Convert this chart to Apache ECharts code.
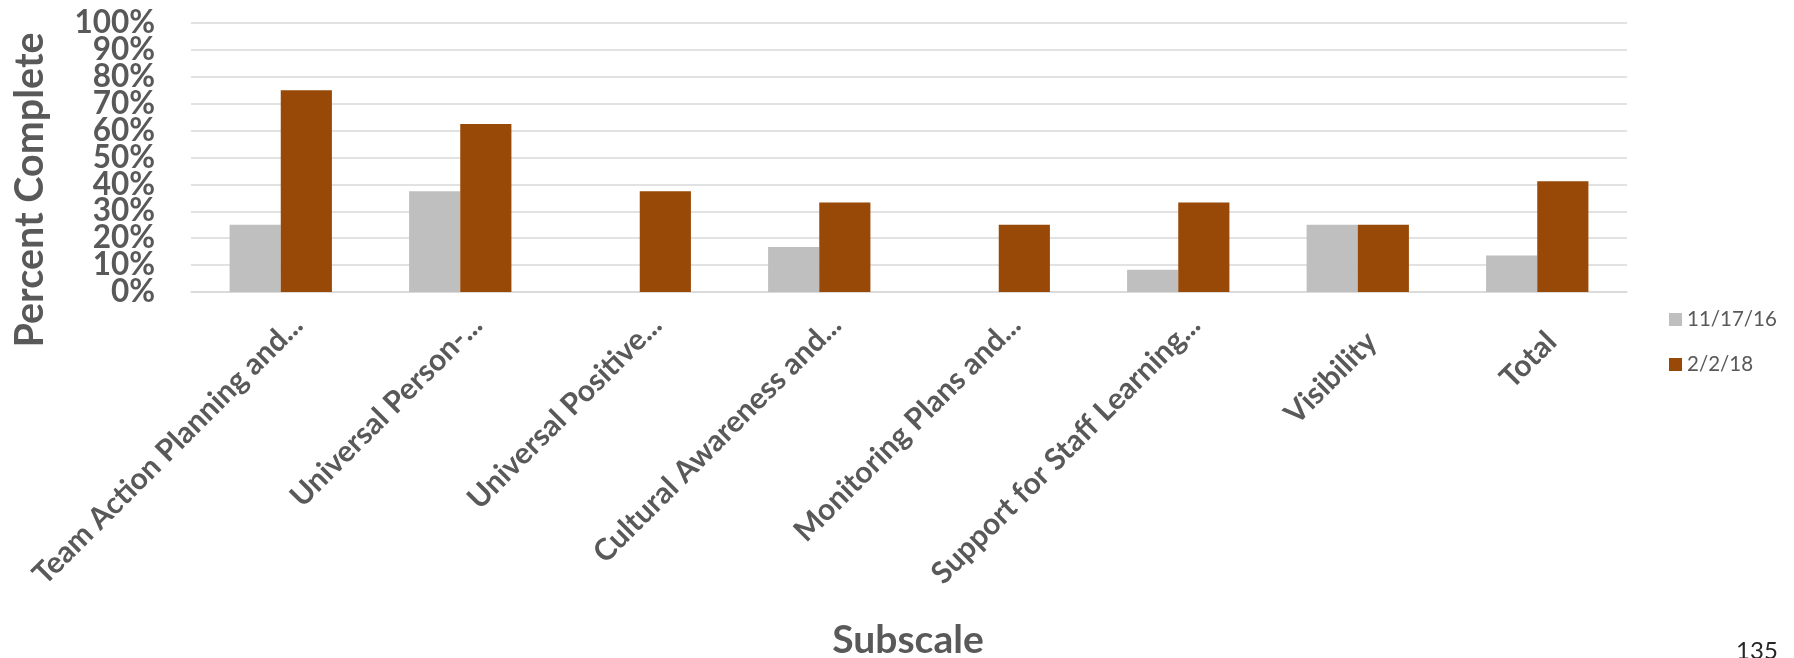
<!DOCTYPE html>
<html>
<head>
<meta charset="utf-8">
<style>
  html, body { margin: 0; padding: 0; background: #ffffff; }
  #chart { width: 1794px; height: 658px; }
</style>
<script src="https://cdn.jsdelivr.net/npm/echarts@6/dist/echarts.min.js"></script>
</head>
<body>
<div id="chart"></div>
<script>
// Subscale categories (long names shortened as on the axis)
const categories = [
  'Team Action Planning and...',
  'Universal Person-...',
  'Universal Positive...',
  'Cultural Awareness and...',
  'Monitoring Plans and...',
  'Support for Staff Learning...',
  'Visibility',
  'Total'
];

// Percent complete at each assessment date
const seriesNames = ['11/17/16', '2/2/18'];
const firstAssessment = [25, 37.5, 0, 16.7, 0, 8.3, 25, 13.6];
const secondAssessment = [75, 62.5, 37.5, 33.3, 25, 33.3, 25, 41.2];

// Y axis range, step and labelled ticks (percent)
const yMin = 0;
const yMax = 100;
const yStep = 10;
const yTicks = [0, 10, 20, 30, 40, 50, 60, 70, 80, 90, 100];

const textGray = '#595959';
const gridGray = '#d9d9d9';
const font = 'Lato, "Open Sans", sans-serif';

// Shortened labels run a little further along their slant; full ones sit lower
const categoryItems = categories.map(function (name) {
  const shortened = name.endsWith('...');
  return {
    value: name,
    textStyle: shortened
      ? { padding: [0, -24, 0, 0] }
      : { padding: [0, -10, 0, 0], verticalAlign: 'top', lineHeight: 20 }
  };
});

// The tick labels are taller than the tick spacing, so alternate
// labels are placed on two stacked value axes sharing one scale
const yLabelStyle = {
  margin: 36,
  color: textGray,
  fontSize: 31.5,
  fontWeight: 'bold',
  fontFamily: font,
  formatter: '{value}%'
};

const chart = echarts.init(document.getElementById('chart'), null, { renderer: 'canvas' });

chart.setOption({
  backgroundColor: '#ffffff',
  animation: false,
  grid: { left: 191, right: 167, top: 23, bottom: 366, containLabel: false },
  legend: {
    orient: 'vertical',
    left: 1664,
    top: 304,
    itemWidth: 13,
    itemHeight: 13,
    itemGap: 24,
    itemTextGap: 7,
    icon: 'rect',
    textStyle: { color: textGray, fontSize: 20.5, fontFamily: font },
    data: seriesNames
  },
  xAxis: {
    type: 'category',
    data: categoryItems,
    axisLine: { show: true, lineStyle: { color: gridGray, width: 1.5 } },
    axisTick: { show: false },
    axisLabel: {
      interval: 0,
      rotate: 45,
      margin: 45,
      color: textGray,
      fontSize: 30,
      fontWeight: 'bold',
      fontFamily: font
    }
  },
  yAxis: [
    {
      type: 'value',
      position: 'left',
      min: yMin,
      max: yMax,
      interval: yStep,
      axisLine: { show: false },
      axisTick: { show: false },
      splitLine: { show: true, lineStyle: { color: gridGray, width: 1.5 } },
      axisLabel: Object.assign({}, yLabelStyle, {
        customValues: yTicks.filter(function (v, i) { return i % 2 === 0; })
      })
    },
    {
      type: 'value',
      position: 'left',
      offset: 0,
      min: yMin,
      max: yMax,
      interval: yStep,
      axisLine: { show: false },
      axisTick: { show: false },
      splitLine: { show: false },
      axisLabel: Object.assign({}, yLabelStyle, {
        customValues: yTicks.filter(function (v, i) { return i % 2 === 1; })
      })
    }
  ],
  series: [
    {
      name: seriesNames[0],
      type: 'bar',
      data: firstAssessment,
      itemStyle: { color: '#bfbfbf' },
      barGap: '0%',
      barCategoryGap: '43%'
    },
    {
      name: seriesNames[1],
      type: 'bar',
      data: secondAssessment,
      itemStyle: { color: '#984807' },
      barGap: '0%',
      barCategoryGap: '43%'
    }
  ],
  graphic: [
    {
      type: 'text',
      x: 30,
      y: 190,
      rotation: Math.PI / 2,
      style: {
        text: 'Percent Complete',
        fill: textGray,
        font: 'bold 39.5px ' + font,
        textAlign: 'center',
        textVerticalAlign: 'middle'
      }
    },
    {
      type: 'text',
      x: 908,
      y: 640,
      style: {
        text: 'Subscale',
        fill: textGray,
        font: 'bold 39px ' + font,
        textAlign: 'center',
        textVerticalAlign: 'middle'
      }
    },
    {
      type: 'text',
      x: 1757,
      y: 651,
      style: {
        text: '135',
        fill: '#262626',
        font: '24px ' + font,
        textAlign: 'center',
        textVerticalAlign: 'middle'
      }
    }
  ]
});
</script>
</body>
</html>
